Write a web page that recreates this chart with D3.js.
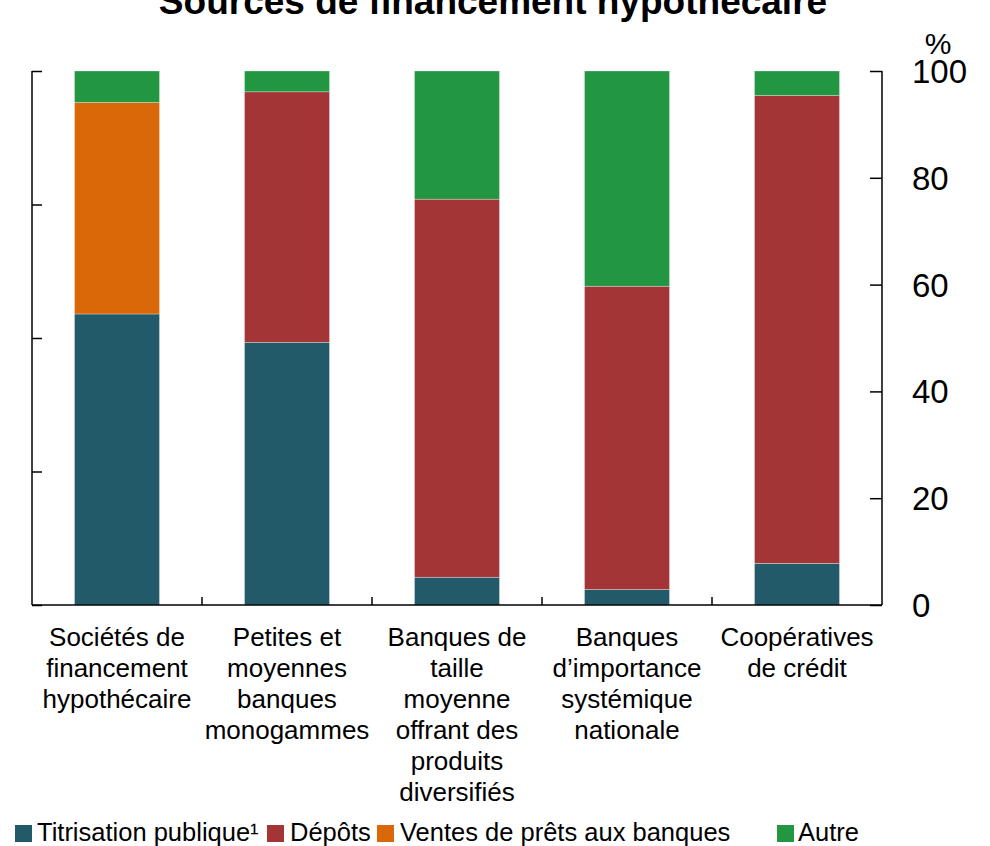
<!DOCTYPE html>
<html>
<head>
<meta charset="utf-8">
<script src="https://cdn.jsdelivr.net/npm/d3@7"></script>
<style>
  body { margin: 0; background: #fff; }
  svg { font-family: "Liberation Sans", Arial, sans-serif; }
</style>
</head>
<body>
<div id="chart"></div>
<script>
var categories = [
  ['Sociétés de', 'financement', 'hypothécaire'],
  ['Petites et', 'moyennes', 'banques', 'monogammes'],
  ['Banques de', 'taille', 'moyenne', 'offrant des', 'produits', 'diversifiés'],
  ['Banques', 'd’importance', 'systémique', 'nationale'],
  ['Coopératives', 'de crédit']
];
var seriesNames = ['Titrisation publique¹', 'Dépôts', 'Ventes de prêts aux banques', 'Autre'];
var seriesColors = ['#225a69', '#a33536', '#da6809', '#229640'];
var titrisation = [54.5, 49.2, 5.2, 2.9, 7.8];
var depots = [0, 46.9, 70.8, 56.8, 87.6];
var ventes = [39.6, 0, 0, 0, 0];
var autre = [5.9, 3.9, 24.0, 40.3, 4.6];
var rightTicks = [0, 20, 40, 60, 80, 100];
var leftTicks = [0, 25, 50, 75, 100];

var width = 990, height = 846;
var plotLeft = 32, plotRight = 882, plotTop = 71, plotBottom = 605;

var svg = d3.select('#chart').append('svg')
  .attr('width', width)
  .attr('height', height);

var rows = categories.map(function (c, i) {
  return { idx: i, s0: titrisation[i], s1: depots[i], s2: ventes[i], s3: autre[i] };
});

var stack = d3.stack().keys(['s0', 's1', 's2', 's3']);
var series = stack(rows);

var x = d3.scaleBand()
  .domain(d3.range(categories.length))
  .range([plotLeft, plotRight])
  .paddingInner(0.5)
  .paddingOuter(0.25);

var y = d3.scaleLinear().domain([0, 100]).range([plotBottom, plotTop]);

// bars
svg.append('g').selectAll('g')
  .data(series)
  .enter().append('g')
  .attr('fill', function (d, i) { return seriesColors[i]; })
  .selectAll('rect')
  .data(function (d) { return d.filter(function (v) { return v[1] - v[0] > 0; }); })
  .enter().append('rect')
  .attr('x', function (d) { return x(d.data.idx); })
  .attr('width', x.bandwidth())
  .attr('y', function (d) { return y(d[1]); })
  .attr('height', function (d) { return y(d[0]) - y(d[1]); })
  .attr('stroke', '#fff')
  .attr('stroke-opacity', 0.5)
  .attr('stroke-width', 0.6);

// left axis, ticks pointing in
var leftAxis = svg.append('g')
  .attr('transform', 'translate(' + plotLeft + ',0)')
  .call(d3.axisRight(y).tickValues(leftTicks).tickSize(10).tickFormat(''));
leftAxis.select('.domain').remove();
leftAxis.append('line')
  .attr('x1', 0).attr('x2', 0)
  .attr('y1', plotTop).attr('y2', plotBottom)
  .attr('stroke', '#000').attr('stroke-width', 1.5);

// right axis, ticks pointing in, labels outside
var rightAxis = svg.append('g')
  .attr('transform', 'translate(' + plotRight + ',0)')
  .call(d3.axisLeft(y).tickValues(rightTicks).tickSize(12).tickFormat(''));
rightAxis.select('.domain').remove();
rightAxis.append('line')
  .attr('x1', 0).attr('x2', 0)
  .attr('y1', plotTop).attr('y2', plotBottom)
  .attr('stroke', '#000').attr('stroke-width', 1.5);
svg.selectAll('.tick line').attr('stroke', '#000').attr('stroke-width', 1.5);

svg.append('g').selectAll('text')
  .data(rightTicks)
  .enter().append('text')
  .attr('x', 912)
  .attr('y', function (d) { return y(d) + 12; })
  .attr('font-size', 33)
  .attr('fill', '#000')
  .text(function (d) { return d; });

svg.append('text')
  .attr('x', 938).attr('y', 54)
  .attr('text-anchor', 'middle')
  .attr('font-size', 30)
  .text('%');

// bottom axis
svg.append('line')
  .attr('x1', plotLeft).attr('x2', plotRight)
  .attr('y1', plotBottom).attr('y2', plotBottom)
  .attr('stroke', '#000').attr('stroke-width', 1.5);

var step = x.step();
svg.append('g').selectAll('line')
  .data(d3.range(1, categories.length))
  .enter().append('line')
  .attr('x1', function (i) { return x(i) - step * x.paddingInner() / 2; })
  .attr('x2', function (i) { return x(i) - step * x.paddingInner() / 2; })
  .attr('y1', plotBottom).attr('y2', plotBottom - 8)
  .attr('stroke', '#000').attr('stroke-width', 1.5);

// category labels
svg.append('g').selectAll('text')
  .data(categories)
  .enter().append('text')
  .attr('text-anchor', 'middle')
  .attr('font-size', 26)
  .attr('fill', '#000')
  .each(function (lines, i) {
    d3.select(this).selectAll('tspan')
      .data(lines)
      .enter().append('tspan')
      .attr('x', x(i) + x.bandwidth() / 2)
      .attr('y', function (d, j) { return 646 + j * 31; })
      .text(function (d) { return d; });
  });

// title, cut off by the top edge like the original
svg.append('text')
  .attr('x', 493).attr('y', 14)
  .attr('text-anchor', 'middle')
  .attr('font-size', 37)
  .attr('font-weight', 'bold')
  .text('Sources de financement hypothécaire');

// legend
var legendX = [15, 267, 377, 777];
var legendTextX = [37, 290, 400, 798];
var legend = svg.append('g').selectAll('g')
  .data(seriesNames)
  .enter().append('g');
legend.append('rect')
  .attr('x', function (d, i) { return legendX[i]; })
  .attr('y', 825)
  .attr('width', 17).attr('height', 17)
  .attr('fill', function (d, i) { return seriesColors[i]; });
legend.append('text')
  .attr('x', function (d, i) { return legendTextX[i]; })
  .attr('y', 841)
  .attr('font-size', 25.5)
  .text(function (d) { return d; });
</script>
</body>
</html>
